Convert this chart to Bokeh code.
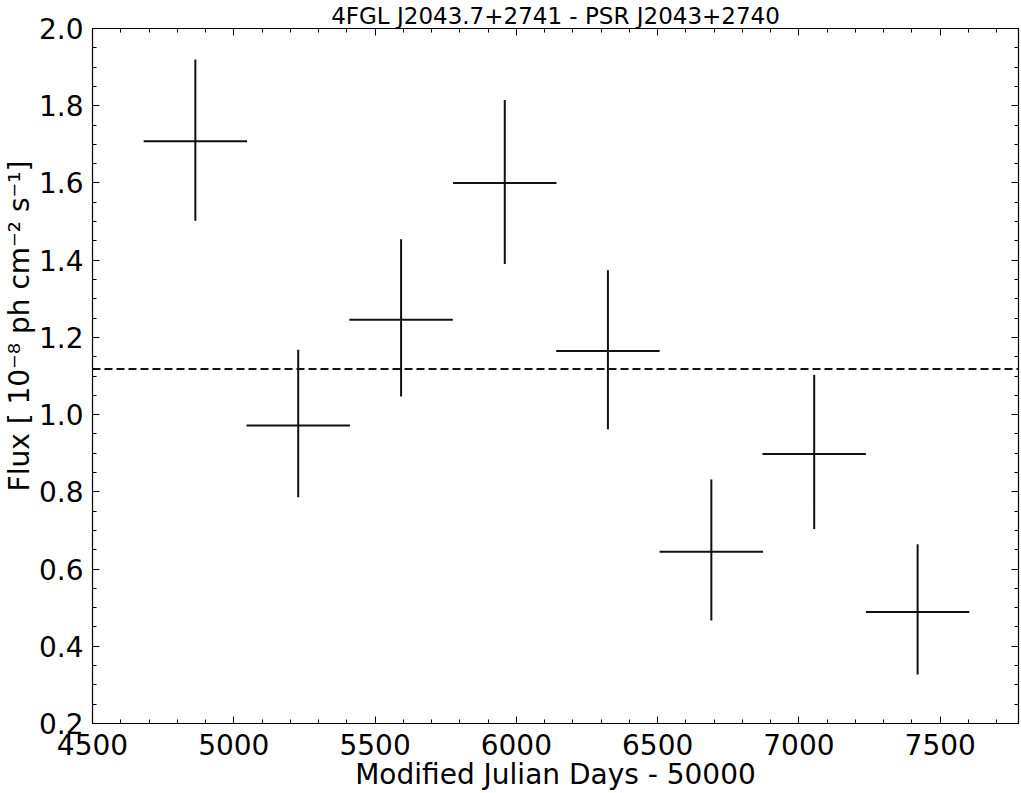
from bokeh.plotting import figure
from bokeh.models import (LinearAxis, SingleIntervalTicker, PrintfTickFormatter,
                          CustomJSTickFormatter, Span, Title, Range1d, ColumnDataSource)
from bokeh.embed import file_html
from bokeh.resources import INLINE

# ---- data ----
title_text = "4FGL J2043.7+2741 - PSR J2043+2740"
x_label = "Modified Julian Days - 50000"
y_label = "Flux [ 10\u207b\u2078 ph cm\u207b\u00b2 s\u207b\u00b9]"

mjd = [4864, 5228, 5592, 5959, 6324, 6690, 7054, 7420]
mjd_halfwidth = [183, 183, 183, 183, 183, 183, 183, 183]
flux = [1.708, 0.972, 1.246, 1.600, 1.165, 0.645, 0.898, 0.489]
flux_hi = [1.920, 1.168, 1.454, 1.815, 1.374, 0.832, 1.103, 0.664]
flux_lo = [1.502, 0.786, 1.047, 1.390, 0.962, 0.467, 0.704, 0.327]
mean_flux = 1.118

x_start, x_end = 4500, 7777
y_start, y_end = 0.2, 2.0
x_tick_step = 500
y_tick_step = 0.2

FONT = "DejaVu Sans"
W, H = 1021, 793

p = figure(width=W, height=H, output_backend="svg", toolbar_location=None,
           x_range=Range1d(x_start, x_end), y_range=Range1d(y_start, y_end),
           x_axis_location=None, y_axis_location=None,
           min_border_left=92, min_border_right=3, min_border_top=28, min_border_bottom=69)
p.xgrid.visible = False
p.ygrid.visible = False
p.outline_line_color = None
p.background_fill_color = "white"
p.border_fill_color = "white"

p.title.text = title_text
p.title.align = "center"
p.title.text_font = FONT
p.title.text_font_size = "23px"
p.title.text_font_style = "normal"
p.title.text_color = "black"
p.title.standoff = 0


def make_axis(xdir):
    ticker = SingleIntervalTicker(interval=x_tick_step if xdir else y_tick_step,
                                  num_minor_ticks=5 if xdir else 4)
    ax = LinearAxis(ticker=ticker)
    ax.axis_line_color = "black"
    ax.axis_line_width = 1.2
    ax.major_tick_in = 7
    ax.major_tick_out = 0
    ax.minor_tick_in = 4
    ax.minor_tick_out = 0
    ax.major_tick_line_color = "black"
    ax.minor_tick_line_color = "black"
    ax.major_tick_line_width = 1
    ax.minor_tick_line_width = 1
    ax.major_label_text_font = FONT
    ax.major_label_text_color = "black"
    return ax


bx = make_axis(True)
bx.formatter = PrintfTickFormatter(format="%d")
bx.major_label_text_font_size = "28px"
bx.major_label_text_line_height = 1.0
bx.major_label_standoff = 10
bx.axis_label = x_label
bx.axis_label_text_font = FONT
bx.axis_label_text_font_size = "28px"
bx.axis_label_text_font_style = "normal"
bx.axis_label_text_color = "black"
bx.axis_label_text_line_height = 1.0
bx.axis_label_standoff = 0
p.add_layout(bx, "below")

ly = make_axis(False)
ly.formatter = PrintfTickFormatter(format="%.1f")
ly.major_label_text_font_size = "28px"
ly.major_label_standoff = 9
p.add_layout(ly, "left")

p.add_layout(Title(text=y_label, align="right", offset=132, standoff=0,
                   text_font=FONT, text_font_size="28px", text_font_style="normal",
                   text_color="black"), "left")

tx = make_axis(True)
tx.formatter = CustomJSTickFormatter(code="return ''")
tx.major_label_text_font_size = "1px"
tx.major_label_standoff = 0
p.add_layout(tx, "above")

ry = make_axis(False)
ry.formatter = CustomJSTickFormatter(code="return ''")
ry.major_label_text_font_size = "1px"
ry.major_label_standoff = 0
p.add_layout(ry, "right")

src = ColumnDataSource(dict(
    x=mjd, y=flux, hi=flux_hi, lo=flux_lo,
    x0=[m - w for m, w in zip(mjd, mjd_halfwidth)],
    x1=[m + w for m, w in zip(mjd, mjd_halfwidth)],
))
p.segment(x0="x0", y0="y", x1="x1", y1="y", source=src, line_color="#111111", line_width=2)
p.segment(x0="x", y0="lo", x1="x", y1="hi", source=src, line_color="#111111", line_width=2)

p.add_layout(Span(location=mean_flux, dimension="width", line_color="#111111",
                  line_width=2, line_dash="8 4"))

open("out.html", "w").write(file_html(p, INLINE))
